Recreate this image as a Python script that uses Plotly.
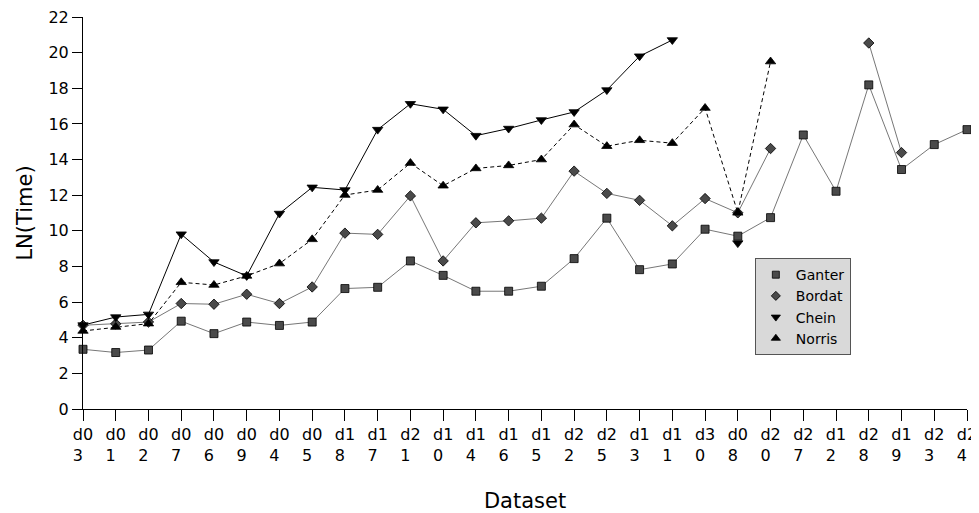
import plotly.graph_objects as go

datasets = ["d03", "d01", "d02", "d07", "d06", "d09", "d04", "d05", "d18", "d17",
            "d21", "d10", "d14", "d16", "d15", "d22", "d25", "d13", "d11", "d30",
            "d08", "d20", "d27", "d12", "d28", "d19", "d23", "d24"]
tick_text = [d[:2] + "<br>" + d[2:] + "\u00a0\u00a0" for d in datasets]

ganter = [3.35, 3.17, 3.31, 4.93, 4.23, 4.88, 4.69, 4.88, 6.76, 6.83,
          8.31, 7.50, 6.61, 6.61, 6.89, 8.44, 10.71, 7.82, 8.14, 10.09,
          9.70, 10.74, 15.38, 12.22, 18.19, 13.44, 14.84, 15.68]
bordat = [4.70, 4.78, 4.88, 5.92, 5.88, 6.44, 5.92, 6.85, 9.87, 9.80,
          11.96, 8.31, 10.45, 10.56, 10.71, 13.35, 12.10, 11.71, 10.28, 11.81,
          11.01, 14.62, None, None, 20.54, 14.39, None, None]
chein = [4.71, 5.16, 5.31, 9.81, 8.25, 7.47, 10.97, 12.44, 12.29, 15.68,
         17.13, 16.82, 15.34, 15.74, 16.22, 16.67, 17.90, 19.80, 20.71, None,
         9.31, None, None, None, None, None, None, None]
norris = [4.38, 4.60, 4.79, 7.11, 6.96, 7.47, 8.16, 9.52, 12.01, 12.29,
          13.80, 12.53, 13.50, 13.67, 14.00, 15.96, 14.75, 15.08, 14.92, 16.89,
          11.01, 19.50, None, None, None, None, None, None]

FONT = "DejaVu Sans"

series = [
    ("Ganter", ganter, "square", 8, "#4a4a4a", "#777777", "solid"),
    ("Bordat", bordat, "diamond", 8, "#4a4a4a", "#777777", "solid"),
    ("Chein", chein, "triangle-down", 9, "#000000", "#000000", "solid"),
    ("Norris", norris, "triangle-up", 9, "#000000", "#000000", "4px,3px"),
]

fig = go.Figure()
for name, vals, sym, size, mcol, lcol, dash in series:
    fig.add_trace(go.Scatter(
        x=datasets, y=vals, mode="lines+markers", name=name,
        showlegend=False, cliponaxis=False,
        line=dict(color=lcol, width=1, dash=dash),
        marker=dict(symbol=sym, size=size, color=mcol,
                    line=dict(color="#000000", width=0.8)),
    ))
# legend entries (markers only)
for name, vals, sym, size, mcol, lcol, dash in series:
    fig.add_trace(go.Scatter(
        x=[None], y=[None], mode="markers", name=name,
        marker=dict(symbol=sym, size=size - 1, color=mcol,
                    line=dict(color="#000000", width=0.8)),
    ))

# the page body has an 8px margin, so the figure is shifted by (8, 8)
fig.update_layout(
    width=971, height=505,
    margin=dict(l=75, r=12, t=9, b=104),
    paper_bgcolor="white", plot_bgcolor="white",
    font=dict(family=FONT, size=16, color="#000000"),
    legend=dict(
        x=0.760, y=0.385, xanchor="left", yanchor="top",
        bgcolor="#d9d9d9", bordercolor="#555555", borderwidth=1,
        font=dict(family=FONT, size=14, color="#000000"),
        itemwidth=30, tracegroupgap=0,
    ),
)
fig.update_xaxes(
    type="category", categoryorder="array", categoryarray=datasets,
    tickmode="array", tickvals=datasets, ticktext=tick_text,
    range=[0, len(datasets) - 1], automargin=False,
    ticklabeloverflow="allow",
    showline=True, linecolor="#000000", linewidth=1,
    ticks="outside", ticklen=11, tickcolor="#000000",
    showgrid=False, zeroline=False, tickangle=0,
    tickfont=dict(family=FONT, size=16),
    title=dict(text="Dataset", font=dict(family=FONT, size=21), standoff=30),
)
fig.update_yaxes(
    range=[0, 22], dtick=2, tick0=0, automargin=False,
    ticklabeloverflow="allow",
    showline=True, linecolor="#000000", linewidth=1,
    ticks="outside", ticklen=10, tickcolor="#000000",
    showgrid=False, zeroline=False,
    tickfont=dict(family=FONT, size=16),
    title=dict(text="LN(Time)", font=dict(family=FONT, size=21), standoff=10),
)

fig.write_html("out.html")
